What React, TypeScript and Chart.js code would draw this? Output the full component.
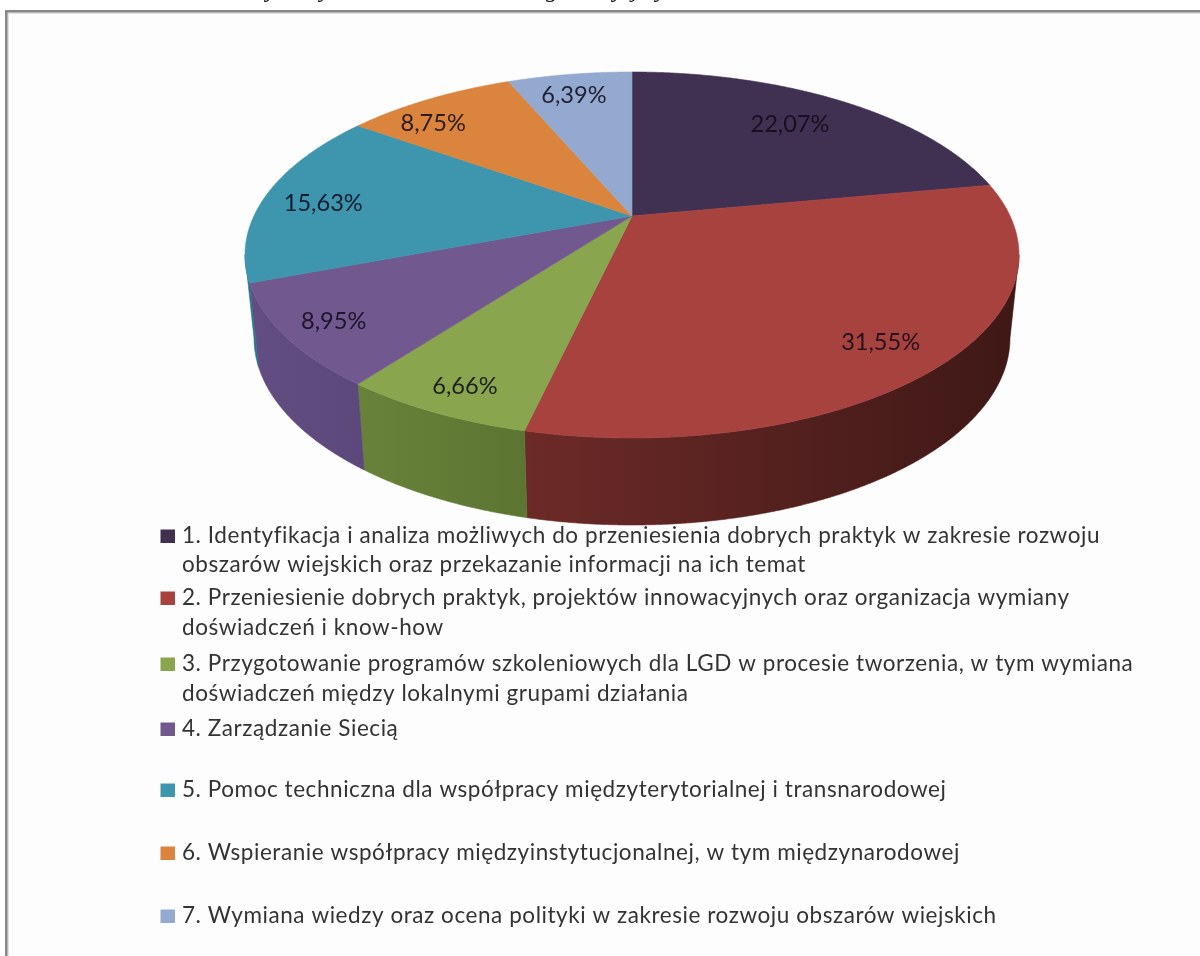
import React, { useEffect, useRef } from "react";
import { Chart, registerables } from "chart.js";

Chart.register(...registerables);

const categories = [
  ["1. Identyfikacja i analiza możliwych do przeniesienia dobrych praktyk w zakresie rozwoju", "obszarów wiejskich oraz przekazanie informacji na ich temat"],
  ["2. Przeniesienie dobrych praktyk, projektów innowacyjnych oraz organizacja wymiany", "doświadczeń i know-how"],
  ["3. Przygotowanie programów szkoleniowych dla LGD w procesie tworzenia, w tym wymiana", "doświadczeń między lokalnymi grupami działania"],
  ["4. Zarządzanie Siecią"],
  ["5. Pomoc techniczna dla współpracy międzyterytorialnej i transnarodowej"],
  ["6. Wspieranie współpracy międzyinstytucjonalnej, w tym międzynarodowej"],
  ["7. Wymiana wiedzy oraz ocena polityki w zakresie rozwoju obszarów wiejskich"],
];
const shares = [22.07, 31.55, 6.66, 8.95, 15.63, 8.75, 6.39];
const topColors = ["#403152", "#A8423F", "#89A54E", "#71588F", "#3D96AE", "#DB843D", "#93A9CF"];
const wallStart = [[44, 33, 58], [62, 24, 22], [92, 118, 50], [92, 72, 122], [45, 115, 135], [160, 95, 40], [110, 125, 155]];
const wallEnd = [[44, 33, 58], [108, 42, 40], [104, 130, 58], [98, 78, 130], [45, 115, 135], [160, 95, 40], [110, 125, 155]];
const labelRadius = [0.757, 0.846, 0.888, 0.879, 0.833, 0.844, 0.832];
const labelTurnDeg = [-1.3, 1.4, -0.7, -0.4, -2.2, -5.9, -1];
const legendRows = [[536, 565], [598, 628], [664, 694], [729], [790], [853], [916]];
const clippedHeadingGlyphs = [["y", 266], ["y", 320], ["g", 546], ["y", 613], ["j", 632], ["y", 656]];

const TOP = { cx: 632, cy: 255, rx: 387, ry: 183 };
const BOTTOM = { cx: 632, cy: 338, rx: 378, ry: 187 };
const APEX_SHIFT = -0.213;
// The wall only shows between the points where the rim is widest.
const FRONT_FROM = Math.PI - Math.acos(-APEX_SHIFT);
const FRONT_TO = Math.PI + Math.acos(-APEX_SHIFT);

// Projective tilt of the unit disc: the apex sits above the centre of the rim ellipse.
function tilt(u: number, v: number) {
  const den = 1 + APEX_SHIFT * v;
  return { X: (u * Math.sqrt(1 - APEX_SHIFT * APEX_SHIFT)) / den, Y: (v + APEX_SHIFT) / den };
}
function project(theta: number, r: number, e: typeof TOP) {
  const { X, Y } = tilt(r * Math.sin(theta), -r * Math.cos(theta));
  return { x: e.cx + X * e.rx, y: e.cy + Y * e.ry };
}
const rgb = (c: number[]) => `rgb(${c.join(",")})`;

const pie3d = {
  id: "pie3d",
  beforeDraw(chart: any) {
    const { ctx, width, height } = chart;
    ctx.save();
    ctx.fillStyle = "#ffffff";
    ctx.fillRect(0, 0, width, height);
    ctx.fillStyle = "#fdfdfd";
    ctx.fillRect(7, 12, width, height);
    ctx.fillStyle = "#e2e2e2";
    ctx.fillRect(7, 12, width, 2);
    ctx.fillRect(7, 12, 2, height);
    ctx.fillStyle = "#888888";
    ctx.fillRect(5, 10, width, 2.5);
    ctx.fillRect(5, 10, 2.5, height);
    ctx.fillStyle = "#111111";
    ctx.font = "italic 24px 'Liberation Serif'";
    ctx.textAlign = "left";
    ctx.textBaseline = "alphabetic";
    clippedHeadingGlyphs.forEach(([g, x]) => ctx.fillText(g as string, x as number, -3));
    ctx.restore();
  },
  beforeDatasetDraw(chart: any) {
    const { ctx } = chart;
    const arcs = chart.getDatasetMeta(0).data;
    const toTheta = (a: number) => a + Math.PI / 2;
    ctx.save();
    ctx.lineWidth = 0.6;
    arcs.forEach((arc: any, i: number) => {
      const a0 = Math.max(toTheta(arc.startAngle), FRONT_FROM);
      const a1 = Math.min(toTheta(arc.endAngle), FRONT_TO);
      if (a1 <= a0) return;
      const n = Math.ceil((a1 - a0) / 0.005);
      const up: any[] = [];
      const down: any[] = [];
      for (let k = 0; k <= n; k++) {
        const t = a0 + ((a1 - a0) * k) / n;
        up.push(project(t, 1, TOP));
        down.push(project(t, 1, BOTTOM));
      }
      const g = ctx.createLinearGradient(up[0].x, 0, up[n].x, 0);
      g.addColorStop(0, rgb(wallStart[i]));
      g.addColorStop(1, rgb(wallEnd[i]));
      ctx.fillStyle = g;
      ctx.strokeStyle = g;
      ctx.beginPath();
      up.forEach((p, k) => (k ? ctx.lineTo(p.x, p.y) : ctx.moveTo(p.x, p.y)));
      [...down].reverse().forEach((p) => ctx.lineTo(p.x, p.y));
      ctx.closePath();
      ctx.fill();
      ctx.stroke();
    });
    arcs.forEach((arc: any, i: number) => {
      const a0 = toTheta(arc.startAngle);
      const a1 = toTheta(arc.endAngle);
      const apex = project(0, 0, TOP);
      ctx.fillStyle = topColors[i];
      ctx.strokeStyle = topColors[i];
      ctx.beginPath();
      ctx.moveTo(apex.x, apex.y);
      const n = Math.ceil((a1 - a0) / 0.005);
      for (let k = 0; k <= n; k++) {
        const q = project(a0 + ((a1 - a0) * k) / n, 1, TOP);
        ctx.lineTo(q.x, q.y);
      }
      ctx.closePath();
      ctx.fill();
      ctx.stroke();
    });
    ctx.restore();
    return false;
  },
  afterDatasetsDraw(chart: any) {
    const { ctx } = chart;
    const arcs = chart.getDatasetMeta(0).data;
    ctx.save();
    ctx.font = "23.6px Lato";
    ctx.textAlign = "center";
    ctx.textBaseline = "middle";
    ctx.fillStyle = "rgba(15,10,25,0.86)";
    arcs.forEach((arc: any, i: number) => {
      const mid = (arc.startAngle + arc.endAngle) / 2 + Math.PI / 2 + (labelTurnDeg[i] * Math.PI) / 180;
      const p = project(mid, labelRadius[i], TOP);
      const text = chart.data.datasets[0].data[i].toFixed(2).replace(".", ",") + "%";
      ctx.fillText(text, p.x, p.y);
    });
    // legend
    const names = chart.data.labels as string[][];
    ctx.font = "22.5px Lato";
    ctx.letterSpacing = "0.56px";
    ctx.textAlign = "left";
    names.forEach((lines, i) => {
      ctx.fillStyle = topColors[i];
      ctx.fillRect(160.5, legendRows[i][0] - 6.5, 14.5, 13.5);
      ctx.fillStyle = "#333333";
      lines.forEach((line, j) => ctx.fillText(line, 182, legendRows[i][j]));
    });
    ctx.restore();
  },
};

export default function App() {
  const ref = useRef<HTMLCanvasElement>(null);
  useEffect(() => {
    const chart = new Chart(ref.current!, {
      type: "pie",
      data: { labels: categories as any, datasets: [{ data: shares, backgroundColor: topColors, borderWidth: 0 }] },
      options: {
        responsive: false,
        animation: false,
        events: [],
        plugins: { legend: { display: false }, tooltip: { enabled: false } },
      },
      plugins: [pie3d as any],
    });
    return () => chart.destroy();
  }, []);
  return (
    <div style={{ position: "absolute", left: 0, top: 0, width: 1200, height: 956, overflow: "hidden" }}>
      <canvas ref={ref} width={1200} height={956} style={{ display: "block", filter: "blur(0.45px)" }} />
    </div>
  );
}
